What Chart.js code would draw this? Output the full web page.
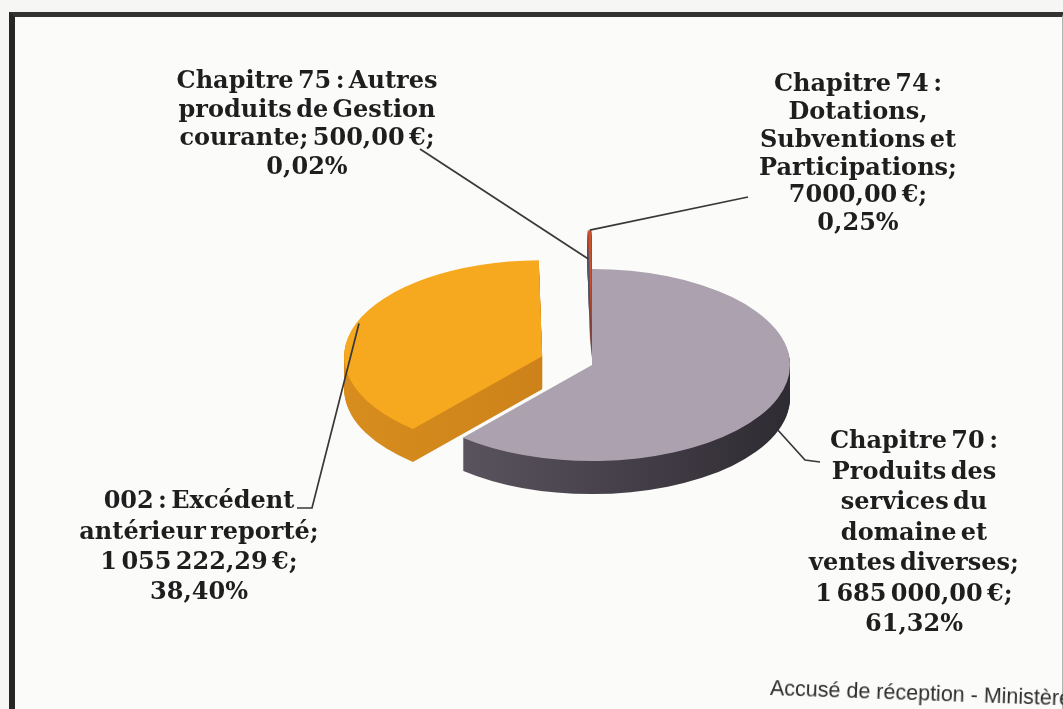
<!DOCTYPE html>
<html>
<head>
<meta charset="utf-8">
<script src="https://cdn.jsdelivr.net/npm/chart.js@4.4.1/dist/chart.umd.min.js"></script>
<style>
  html, body { margin: 0; padding: 0; }
  body { width: 1063px; height: 709px; overflow: hidden; background: #f6f6f4; position: relative; }
  #frame { position: absolute; left: 9px; top: 12px; width: 1047px; height: 720px;
           border-top: 5px solid #333; border-left: 6px solid #262626; border-right: 2px solid #b5b5b5;
           background: #fbfbfa; }
  #wrap { position: absolute; left: 0; top: 0; }
  #stamp { position: absolute; left: 770px; top: 676px; font: 21.5px "Liberation Sans", Arial, sans-serif;
           color: #2e2e2e; white-space: nowrap; transform: rotate(2deg); transform-origin: left center; }
</style>
</head>
<body>
<div id="frame"></div>
<div id="wrap"><canvas id="myChart" width="1063" height="709"></canvas></div>
<div id="stamp">Accusé de réception - Ministère</div>
<script>
// données
var categories = [
    'Chapitre 70 : Produits des services du domaine et ventes diverses',
    '002 : Excédent antérieur reporté',
    'Chapitre 75 : Autres produits de Gestion courante',
    'Chapitre 74 : Dotations, Subventions et Participations'
];
var amounts = [1685000.00, 1055222.29, 500.00, 7000.00];
var labelLines = [
    ['Chapitre 70 :', 'Produits des', 'services du', 'domaine et', 'ventes diverses;', '1 685 000,00 €;', '61,32%'],
    ['002 : Excédent', 'antérieur reporté;', '1 055 222,29 €;', '38,40%'],
    ['Chapitre 75 : Autres', 'produits de Gestion', 'courante; 500,00 €;', '0,02%'],
    ['Chapitre 74 :', 'Dotations,', 'Subventions et', 'Participations;', '7000,00 €;', '0,25%']
];

// styles
var topColors  = ['#aca1ae', '#f6a91e', '#6d7fa3', '#c9532f'];
var sideLeft   = ['#625c68', '#db8f1f', '#46526b', '#a8432a'];
var sideRight  = ['#2f2b32', '#c47b16', '#46526b', '#8a341d'];
var explode = [0, 53, 80, 80];
var squash = 0.485;
var depth = 33;

// position des étiquettes (centre x, premier y, interligne)
var labelPos = [
    {x: 914, y: 442, step: 30.5},
    {x: 199, y: 502, step: 30.3},
    {x: 307, y: 82, step: 28.5},
    {x: 858, y: 85, step: 27.8}
];

function sector(ctx, a) {
    ctx.beginPath();
    ctx.moveTo(a.x, a.y);
    ctx.arc(a.x, a.y, a.outerRadius, a.startAngle, a.endAngle);
    ctx.closePath();
}

function flatten(ctx, a) {
    ctx.translate(a.x, a.y);
    ctx.scale(1, squash);
    ctx.translate(-a.x, -a.y);
}

function shift(a, i) {
    var mid = (a.startAngle + a.endAngle) / 2;
    return {x: Math.cos(mid) * explode[i], y: Math.sin(mid) * explode[i]};
}

// point sur la part, en coordonnées écran
function pointOn(a, i, frac, dy) {
    var mid = (a.startAngle + a.endAngle) / 2;
    var s = shift(a, i);
    return {
        x: a.x + s.x + Math.cos(mid) * a.outerRadius * frac,
        y: a.y + (s.y + Math.sin(mid) * a.outerRadius * frac) * squash + dy
    };
}

var pie3d = {
    id: 'pie3d',
    beforeDatasetsDraw: function(chart) {
        var ctx = chart.ctx;
        var arcs = chart.getDatasetMeta(0).data.map(function(a, i) { return {a: a, i: i}; });
        arcs.sort(function(p, q) {
            return Math.sin((p.a.startAngle + p.a.endAngle) / 2) - Math.sin((q.a.startAngle + q.a.endAngle) / 2);
        });
        arcs.forEach(function(o) {
            var a = o.a, i = o.i, s = shift(a, i);
            var g = ctx.createLinearGradient(a.x + s.x - a.outerRadius, 0, a.x + s.x + a.outerRadius, 0);
            g.addColorStop(0, sideLeft[i]);
            g.addColorStop(1, sideRight[i]);
            for (var d = depth; d > 0; d--) {
                ctx.save();
                ctx.translate(0, d);
                flatten(ctx, a);
                ctx.translate(s.x, s.y);
                sector(ctx, a);
                ctx.fillStyle = g;
                ctx.fill();
                ctx.restore();
            }
            ctx.save();
            flatten(ctx, a);
            ctx.translate(s.x, s.y);
            a.draw(ctx);
            ctx.restore();
        });
        return false;
    },
    afterDraw: function(chart) {
        var ctx = chart.ctx;
        var arcs = chart.getDatasetMeta(0).data;
        ctx.save();
        ctx.lineWidth = 1.7;
        ctx.strokeStyle = '#383838';

        // lignes de rappel
        var p = pointOn(arcs[0], 0, 1, depth * 0.95);
        ctx.beginPath(); ctx.moveTo(p.x, p.y); ctx.lineTo(805, 460); ctx.lineTo(820, 462); ctx.stroke();
        p = pointOn(arcs[1], 1, 1, 0);
        ctx.beginPath(); ctx.moveTo(p.x + 3, p.y); ctx.lineTo(312, 508); ctx.lineTo(297, 508); ctx.stroke();
        p = pointOn(arcs[2], 2, 0.7, 0);
        ctx.beginPath(); ctx.moveTo(420, 149); ctx.lineTo(p.x, p.y); ctx.stroke();
        p = pointOn(arcs[3], 3, 1, 0);
        ctx.beginPath(); ctx.moveTo(748, 197); ctx.lineTo(p.x, p.y); ctx.stroke();

        // étiquettes
        ctx.fillStyle = '#1e1e1e';
        ctx.font = 'bold 24px "DejaVu Serif", serif';
        if ('wordSpacing' in ctx) ctx.wordSpacing = '-4px';
        ctx.textAlign = 'center';
        ctx.textBaseline = 'middle';
        labelLines.forEach(function(lines, i) {
            var lp = labelPos[i];
            lines.forEach(function(t, k) {
                ctx.fillText(t, lp.x, lp.y + k * lp.step);
            });
        });
        ctx.restore();
    }
};

var ctx = document.getElementById('myChart').getContext('2d');
var myChart = new Chart(ctx, {
    type: 'pie',
    data: {
        labels: categories,
        datasets: [{
            data: amounts,
            backgroundColor: topColors,
            borderWidth: 0,
            radius: 198
        }]
    },
    options: {
        responsive: false,
        animation: false,
        rotation: 0,
        layout: { padding: { left: 121, top: 21 } },
        plugins: {
            legend: { display: false },
            tooltip: { enabled: false }
        }
    },
    plugins: [pie3d]
});
</script>
</body>
</html>
